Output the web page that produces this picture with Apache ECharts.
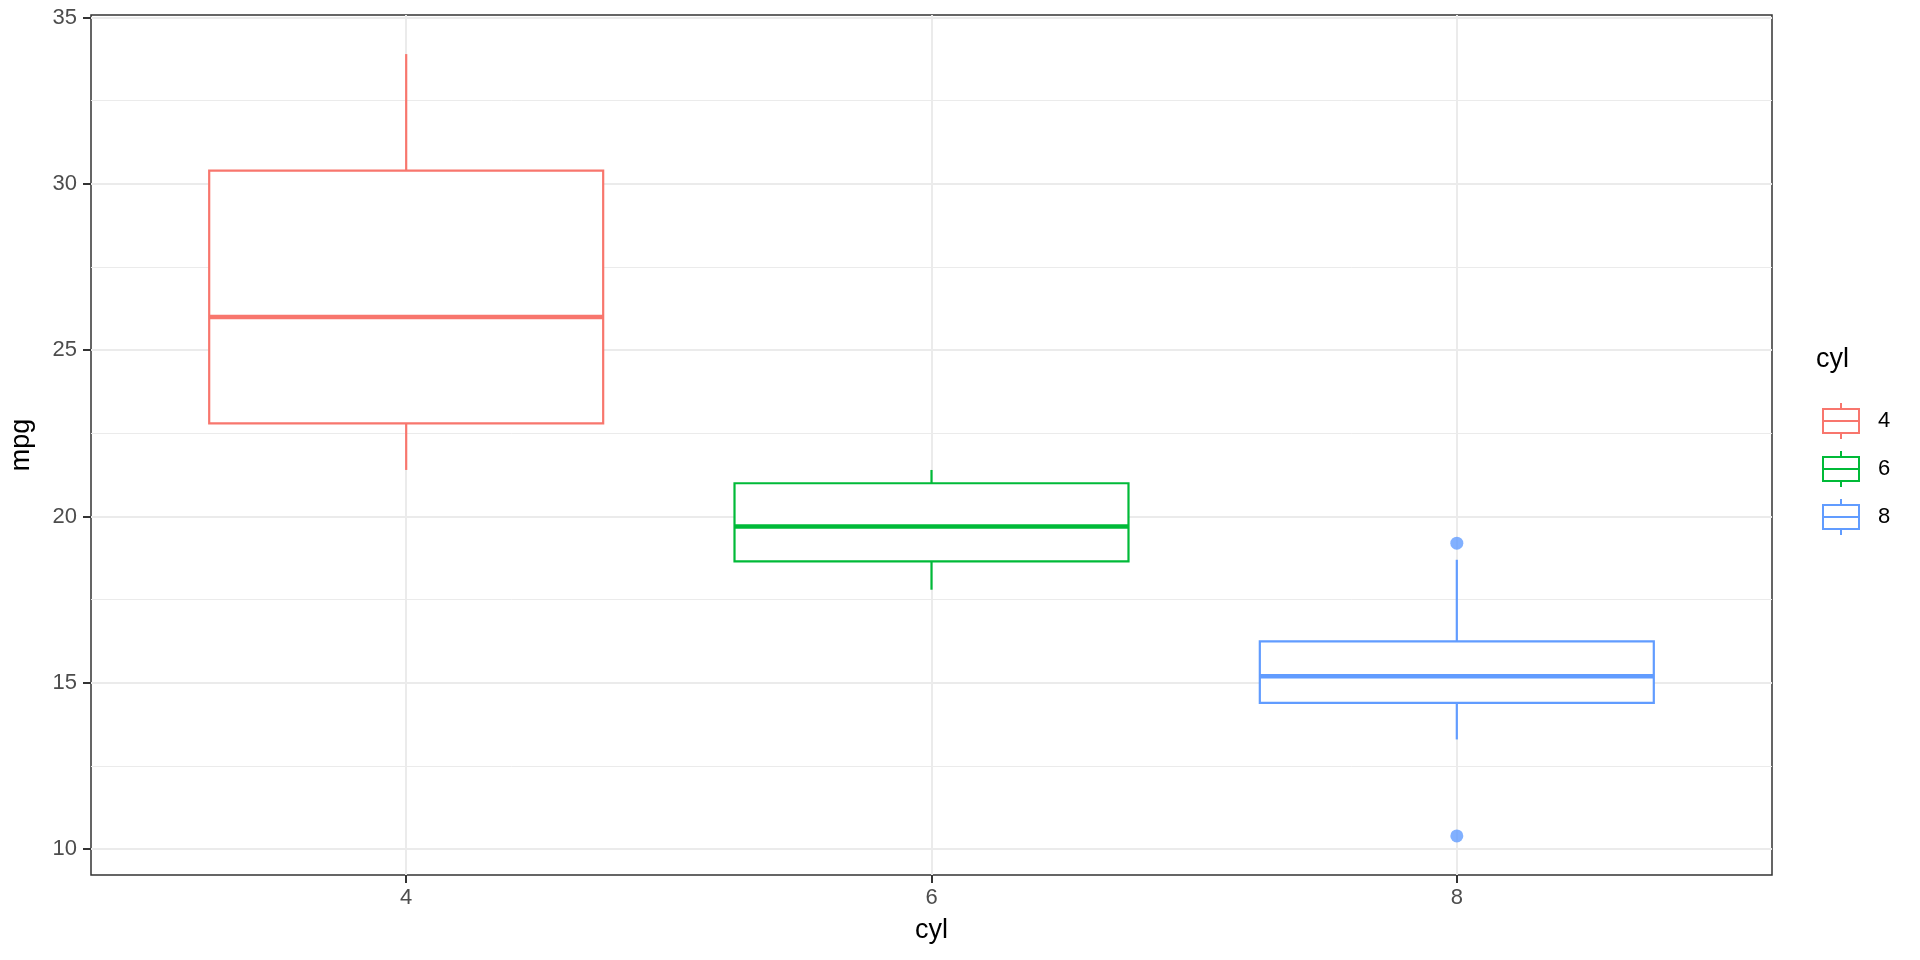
<!DOCTYPE html>
<html>
<head>
<meta charset="utf-8">
<script src="https://cdn.jsdelivr.net/npm/echarts@6/dist/echarts.min.js"></script>
<style>
  html, body { margin: 0; padding: 0; background: #fff; }
  #chart { width: 1920px; height: 960px; }
</style>
</head>
<body>
<div id="chart"></div>
<script>
// cyl groups and mpg box stats: [lower whisker, Q1, median, Q3, upper whisker]
var categories = ['4', '6', '8'];
var box4 = [21.4, 22.8, 26.0, 30.4, 33.9];
var box6 = [17.8, 18.65, 19.7, 21.0, 21.4];
var box8 = [13.3, 14.4, 15.2, 16.25, 18.7];
var outliers8 = [10.4, 19.2];
var yTicks = [10, 15, 20, 25, 30, 35];
var yMinor = [12.5, 17.5, 22.5, 27.5, 32.5];
var colors = ['#F8766D', '#00BA38', '#619CFF'];

var boxes = [box4, box6, box8];
var xPos = [1, 2, 3];
var halfW = 0.375;

function renderBox(params, api) {
  var x = api.value(0);
  var lo = api.value(1), q1 = api.value(2), md = api.value(3), q3 = api.value(4), hi = api.value(5);
  var c = api.visual('color');
  var pTop = api.coord([x, hi]);
  var pBot = api.coord([x, lo]);
  var tl = api.coord([x - halfW, q3]);
  var br = api.coord([x + halfW, q1]);
  var mL = api.coord([x - halfW, md]);
  var mR = api.coord([x + halfW, md]);
  var line = { stroke: c, lineWidth: 2.2, fill: null };
  return {
    type: 'group',
    children: [
      { type: 'line', shape: { x1: pTop[0], y1: pTop[1], x2: pTop[0], y2: tl[1] }, style: line },
      { type: 'line', shape: { x1: pBot[0], y1: pBot[1], x2: pBot[0], y2: br[1] }, style: line },
      { type: 'rect', shape: { x: tl[0], y: tl[1], width: br[0] - tl[0], height: br[1] - tl[1] },
        style: { stroke: c, lineWidth: 2.2, fill: '#fff' } },
      { type: 'line', shape: { x1: mL[0], y1: mL[1], x2: mR[0], y2: mR[1] }, style: { stroke: c, lineWidth: 4.5 } }
    ]
  };
}

var series = [{
  type: 'line',
  data: [],
  silent: true,
  z: 0,
  markLine: {
    z: 0,
    silent: true,
    symbol: 'none',
    label: { show: false },
    animation: false,
    data: yMinor.map(function (v) { return { yAxis: v, lineStyle: { color: '#EBEBEB', width: 1, type: 'solid' } }; })
      .concat(yTicks.map(function (v) { return { yAxis: v, lineStyle: { color: '#EBEBEB', width: 2, type: 'solid' } }; }))
      .concat(xPos.map(function (v) { return { xAxis: v, lineStyle: { color: '#EBEBEB', width: 2, type: 'solid' } }; }))
  }
}];

categories.forEach(function (cat, i) {
  series.push({
    name: cat,
    type: 'custom',
    z: 2,
    itemStyle: { color: colors[i] },
    renderItem: renderBox,
    encode: { x: 0, y: [1, 2, 3, 4, 5] },
    data: [[xPos[i]].concat(boxes[i])]
  });
});
series.push({
  name: '8',
  type: 'scatter',
  z: 3,
  symbolSize: 13,
  itemStyle: { color: colors[2] },
  data: outliers8.map(function (v) { return [3, v]; })
});

var keyIcon = 'path://M18,0V6M18,30V36M0,6H36V30H0ZM0,18H36';

var option = {
  animation: false,
  title: {
    text: 'cyl',
    left: 1816,
    top: 346,
    padding: 0,
    textStyle: { fontFamily: 'Liberation Sans', fontSize: 27, fontWeight: 'normal', color: '#000' }
  },
  legend: {
    orient: 'vertical',
    left: 1822,
    top: 402,
    padding: 0,
    itemWidth: 36,
    itemHeight: 36,
    itemGap: 10,
    icon: keyIcon,
    textStyle: { fontFamily: 'Liberation Sans', fontSize: 22, color: '#000', padding: [0, 0, 0, 14] },
    data: categories.map(function (c, i) {
      return { name: c, icon: keyIcon, itemStyle: { color: '#fff', borderColor: colors[i], borderWidth: 2 } };
    })
  },
  grid: {
    left: 89, right: 148, top: 15, bottom: 85,
    show: true, borderColor: '#333333', borderWidth: 1.5, backgroundColor: '#fff'
  },
  xAxis: {
    type: 'value',
    min: 0.4,
    max: 3.6,
    name: 'cyl',
    nameLocation: 'middle',
    nameGap: 42,
    nameTextStyle: { fontFamily: 'Liberation Sans', fontSize: 27, color: '#000' },
    axisLine: { show: false },
    splitLine: { show: false },
    axisTick: { show: true, customValues: xPos, length: 8, lineStyle: { color: '#333333', width: 2 } },
    axisLabel: {
      customValues: xPos,
      margin: 12,
      fontFamily: 'Liberation Sans', fontSize: 22, color: '#4D4D4D',
      formatter: function (v) { return categories[Math.round(v) - 1]; }
    }
  },
  yAxis: {
    type: 'value',
    min: 9.225,
    max: 35.075,
    name: 'mpg',
    nameLocation: 'middle',
    nameGap: 56,
    nameTextStyle: { fontFamily: 'Liberation Sans', fontSize: 27, color: '#000' },
    axisLine: { show: false },
    splitLine: { show: false },
    axisTick: { show: true, customValues: yTicks, length: 8, lineStyle: { color: '#333333', width: 2 } },
    axisLabel: {
      customValues: yTicks,
      margin: 14,
      fontFamily: 'Liberation Sans', fontSize: 22, color: '#4D4D4D'
    }
  },
  series: series
};

var chart = echarts.init(document.getElementById('chart'));
chart.setOption(option);
</script>
</body>
</html>
